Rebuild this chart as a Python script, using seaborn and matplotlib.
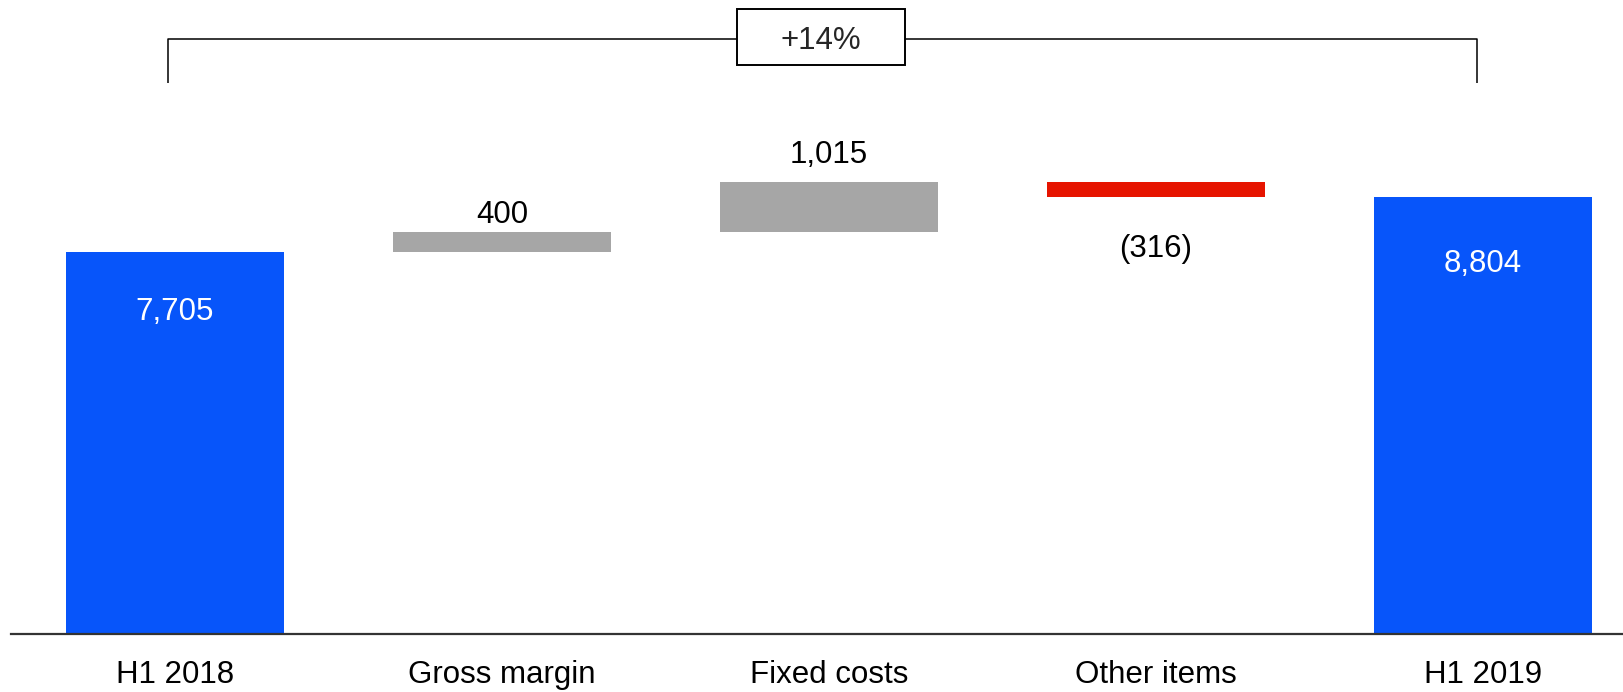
import matplotlib
matplotlib.use("Agg")
import matplotlib.pyplot as plt
import seaborn as sns
from matplotlib.patches import Rectangle

# data
categories = ["H1 2018", "Gross margin", "Fixed costs", "Other items", "H1 2019"]
changes = [7705, 400, 1015, -316, 8804]
is_total = [True, False, False, False, True]
labels = ["7,705", "400", "1,015", "(316)", "8,804"]
growth_label = "+14%"

blue = "#0755FA"
grey = "#A6A6A6"
red = "#E61400"

# waterfall bottoms / heights
bottoms = []
heights = []
running = 0
for v, tot in zip(changes, is_total):
    if tot:
        bottoms.append(0)
        heights.append(v)
        running = v
    else:
        bottoms.append(running if v >= 0 else running + v)
        heights.append(abs(v))
        running += v
colors = [blue if t else (grey if v >= 0 else red) for v, t in zip(changes, is_total)]

sns.set_style("white")
plt.rcParams["font.family"] = ["Liberation Sans", "DejaVu Sans"]

fig = plt.figure(figsize=(16.24, 6.92), dpi=100)
ax = fig.add_axes([0.007, 0.0838, 0.993, 0.9162])

sns.barplot(x=categories, y=heights, bottom=bottoms, color=grey, saturation=1,
            width=0.665, linewidth=0, ax=ax)
for patch, c in zip(ax.patches, colors):
    patch.set_facecolor(c)

ax.set_xlim(-0.5, 4.431)
ax.set_ylim(0, 12787)
ax.set_yticks([])
ax.set_xlabel("")
ax.set_ylabel("")
ax.tick_params(axis="x", length=0, pad=18.5, labelsize=22.5, labelcolor="black")
for s in ["top", "right", "left"]:
    ax.spines[s].set_visible(False)
ax.spines["bottom"].set_color("#333333")
ax.spines["bottom"].set_linewidth(1.6)

# value labels (offsets in points)
offsets = [-49, 6.5, 13.5, -43, -54]
for i, (b, h, lab, off) in enumerate(zip(bottoms, heights, labels, offsets)):
    if is_total[i]:
        y, col = b + h, "white"
    elif changes[i] >= 0:
        y, col = b + h, "black"
    else:
        y, col = b, "black"
    ax.annotate(lab, (i, y), xytext=(0, off), textcoords="offset points",
                ha="center", va="baseline", fontsize=22.5, color=col)

# growth bracket
ax.plot([-0.022, -0.022, 3.98, 3.98], [11115, 12000, 12000, 11115],
        color="black", lw=1.1, solid_capstyle="butt", clip_on=False)
ax.add_patch(Rectangle((1.719, 11472), 0.514, 1129, facecolor="white",
                       edgecolor="black", lw=1.4, zorder=3, clip_on=False))
ax.text(1.976, 12037, growth_label, ha="center", va="center_baseline",
        fontsize=22.5, zorder=4)

fig.savefig("out.png", dpi=100)
